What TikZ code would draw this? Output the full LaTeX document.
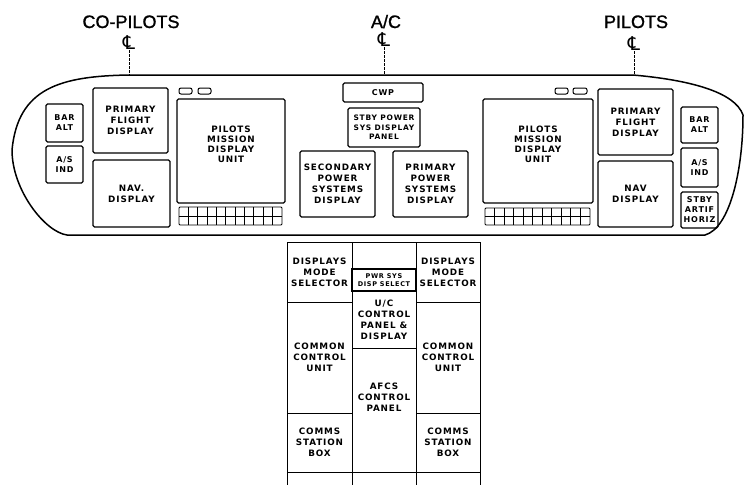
\documentclass[tikz,border=0pt]{standalone}
\usepackage{fontspec}
\setmainfont{Liberation Sans}
\newfontfamily\bxf[LetterSpace=10]{DejaVu Sans Bold}
\newfontfamily\symf{DejaVu Sans}
\newcommand\bx[7][]{\node[pbox,minimum width={(#5)-(#3)},minimum height={(#6)-(#4)},#1] (#2) at ({((#3)+(#5))/2},{((#4)+(#6))/2}) {#7};}
\tikzset{
  pbox/.style={draw,line width=1.1pt,rounded corners=1.5pt,inner sep=0pt,align=center,font=\bxf\fontsize{8.8}{11}\selectfont},
  small/.style={font=\bxf\fontsize{8}{10}\selectfont},
  tiny/.style={font=\bxf\fontsize{6.5}{7.8}\selectfont},
  cbox/.style={pbox,sharp corners,line width=0.9pt},
  outline/.style={line width=1.5pt,line join=round},
  topl/.style={font=\addfontfeature{FakeBold=1.2}\fontsize{18}{20}\selectfont,anchor=base},
  clsym/.style={font=\symf\fontsize{19}{19}\selectfont,inner sep=0pt},
  cline/.style={line width=0.8pt,dash pattern=on 3pt off 1pt},
  ind/.style={line width=1pt,rounded corners=2pt},
  kp/.style={line width=0.9pt}
}
\begin{document}
\begin{tikzpicture}[x=1pt,y=-1pt]
\useasboundingbox[fill=white] (0,0) rectangle (744,485);
% top labels and centre lines
\node[topl] (lco) at (131,28) {CO-PILOTS};
\node[topl] (lac) at (386,28) {A/C};
\node[topl] (lpi) at (636,28) {PILOTS};
\node[clsym] (c1) at (129,43) {℄};
\node[clsym] (c2) at (384,40) {℄};
\node[clsym] (c3) at (634,44) {℄};
\coordinate (e1) at (129,75);
\coordinate (e2) at (384,75);
\coordinate (e3) at (634,75);
\draw[cline] (c1.south) -- (e1);
\draw[cline] (c2.south) -- (e2);
\draw[cline] (c3.south) -- (e3);
% panel outline
\draw[outline] (130,75) -- (633,75) .. controls (690,80) and (735,92) .. (743,115)
  .. controls (743,170) and (730,228) .. (705,235) -- (67,235)
  .. controls (45,232) and (12,190) .. (12,150)
  .. controls (18,88) and (60,76) .. cycle;
% left side
\bx[small]{barL}{46}{104}{83}{142}{BAR\\ALT}
\bx[small]{asL}{46}{146}{83}{183}{A/S\\IND}
\bx{pfdL}{93}{88}{168}{153}{PRIMARY\\FLIGHT\\DISPLAY}
\bx{navL}{93}{160}{170}{227}{NAV.\\DISPLAY}
\draw[ind] (179,88) rectangle (192,94);
\draw[ind] (198,88) rectangle (211,94);
\bx[font=\bxf\fontsize{8.8}{10}\selectfont]{pmduL}{177}{99}{285}{203}{PILOTS\\MISSION\\DISPLAY\\UNIT\\[4pt]}
\draw[kp,rounded corners=1pt] (179,207) rectangle (282,225);
\draw[kp] (179,216) -- (282,216);
\foreach \i in {1,...,10} \draw[kp] ({179+\i*103/11},207) -- ({179+\i*103/11},225);
% centre
\bx[small]{cwp}{343}{83}{423}{102}{CWP}
\bx[font=\bxf\fontsize{7.5}{9.5}\selectfont]{stby}{348}{108}{420}{147}{STBY POWER\\SYS DISPLAY\\PANEL}
\bx{secp}{300}{151}{375}{217}{SECONDARY\\POWER\\SYSTEMS\\DISPLAY}
\bx{prip}{393}{151}{468}{217}{PRIMARY\\POWER\\SYSTEMS\\DISPLAY}
% right side
\bx[font=\bxf\fontsize{8.8}{10}\selectfont]{pmduR}{483}{99}{593}{203}{PILOTS\\MISSION\\DISPLAY\\UNIT\\[4pt]}
\draw[kp,rounded corners=1pt] (485,208) rectangle (590,225);
\draw[kp] (485,216.5) -- (590,216.5);
\foreach \i in {1,...,10} \draw[kp] ({485+\i*105/11},208) -- ({485+\i*105/11},225);
\draw[ind] (555,88) rectangle (568,94);
\draw[ind] (573,88) rectangle (587,94);
\bx{pfdR}{598}{89}{673}{155}{PRIMARY\\FLIGHT\\DISPLAY}
\bx{navR}{598}{161}{673}{227}{NAV\\DISPLAY}
\bx[small]{barR}{681}{107}{718}{143}{BAR\\ALT}
\bx[small]{asR}{681}{148}{718}{187}{A/S\\IND}
\bx[small]{sahR}{681}{192}{718}{228}{STBY\\ARTIF\\HORIZ}
% lower console
\bx[cbox]{dmsL}{287}{242}{352}{302}{DISPLAYS\\MODE\\SELECTOR}
\bx[cbox]{ccuL}{287}{302}{352}{413}{COMMON\\CONTROL\\UNIT}
\bx[cbox]{csbL}{287}{413}{352}{472}{COMMS\\STATION\\BOX}
\bx[cbox]{blank}{352}{242}{416}{269}{}
\bx[cbox,tiny,line width=1.1pt]{pwr}{352}{269}{416}{291}{PWR SYS\\DISP SELECT}
\bx[cbox]{uc}{352}{291}{416}{348}{U/C\\CONTROL\\PANEL \&\\DISPLAY}
\bx[cbox]{afcs}{352}{348}{416}{472}{AFCS\\CONTROL\\PANEL\\[14pt]}
\bx[cbox]{dmsR}{416}{242}{480}{302}{DISPLAYS\\MODE\\SELECTOR}
\bx[cbox]{ccuR}{416}{302}{480}{413}{COMMON\\CONTROL\\UNIT}
\bx[cbox]{csbR}{416}{413}{480}{472}{COMMS\\STATION\\BOX}
\foreach \x in {287,352,416,480} \draw[line width=0.9pt] (\x,472) -- (\x,485);
\end{tikzpicture}
\end{document}
